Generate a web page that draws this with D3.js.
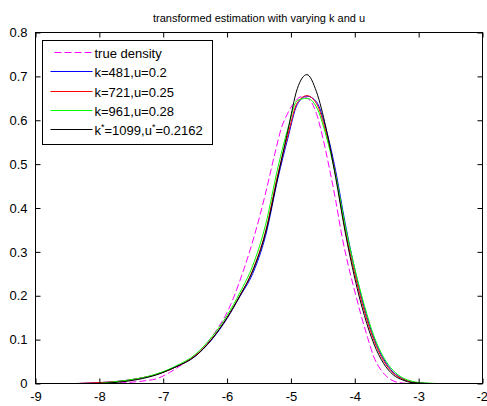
<!DOCTYPE html>
<html>
<head>
<meta charset="utf-8">
<script src="https://cdn.jsdelivr.net/npm/d3@7"></script>
<style>
  body { margin: 0; background: #fff; }
  svg text { font-family: "Liberation Sans", Arial, sans-serif; font-size: 13px; fill: #000; }
</style>
</head>
<body>
<div id="chart"></div>
<script>
// Density estimates

const xTicks = [-9, -8, -7, -6, -5, -4, -3, -2];
const yTicks = [0, 0.1, 0.2, 0.3, 0.4, 0.5, 0.6, 0.7, 0.8];

// true density (dashed magenta)
const xTrue = [-8.0, -7.6, -7.3, -7.1, -6.9, -6.7, -6.5, -6.3, -6.15, -6.0, -5.9, -5.75, -5.64, -5.5, -5.4, -5.25,
               -5.15, -5.05, -4.95, -4.83, -4.7, -4.6, -4.5, -4.4, -4.3, -4.2, -4.1, -4.0, -3.9, -3.8, -3.7, -3.6,
               -3.5, -3.4, -3.3, -3.15];
const yTrue = [0.0, 0.002, 0.006, 0.011, 0.025, 0.044, 0.065, 0.095, 0.125, 0.162, 0.195, 0.255, 0.304, 0.375, 0.432, 0.525,
               0.582, 0.616, 0.640, 0.654, 0.645, 0.615, 0.560, 0.492, 0.418, 0.335, 0.268, 0.210, 0.155, 0.105, 0.060, 0.033,
               0.016, 0.006, 0.002, 0.0];

// estimates share one x grid
const xEst = [-8.35, -8.0, -7.7, -7.4, -7.1, -6.8, -6.5, -6.25, -6.0, -5.8, -5.6, -5.4, -5.2, -5.05, -4.9, -4.75,
              -4.6, -4.45, -4.3, -4.15, -4.0, -3.85, -3.7, -3.55, -3.4, -3.25, -3.1, -2.9, -2.8, -2.7];
const yK481 = [0.0, 0.002, 0.005, 0.011, 0.021, 0.038, 0.062, 0.098, 0.148, 0.198, 0.250, 0.335, 0.470, 0.558, 0.636, 0.655,
               0.642, 0.580, 0.485, 0.365, 0.260, 0.172, 0.103, 0.056, 0.026, 0.011, 0.003, 0.0, null, null];
const yK721 = [0.0, 0.002, 0.005, 0.011, 0.021, 0.038, 0.063, 0.100, 0.150, 0.200, 0.258, 0.345, 0.480, 0.565, 0.640, 0.656,
               0.638, 0.572, 0.475, 0.350, 0.250, 0.165, 0.098, 0.052, 0.024, 0.010, 0.003, 0.0, null, null];
const yK961 = [null, 0.0, 0.005, 0.011, 0.022, 0.040, 0.066, 0.104, 0.155, 0.207, 0.268, 0.360, 0.495, 0.580, 0.645, 0.650,
               0.630, 0.565, 0.475, 0.360, 0.262, 0.178, 0.108, 0.060, 0.030, 0.013, 0.005, 0.001, 0.0005, 0.0];
const yK1099 = [null, 0.0, 0.003, 0.009, 0.020, 0.038, 0.062, 0.099, 0.150, 0.200, 0.256, 0.342, 0.475, 0.575, 0.672, 0.704,
                0.665, 0.582, 0.470, 0.345, 0.240, 0.155, 0.090, 0.046, 0.020, 0.008, 0.002, 0.0005, 0.0, null];

const legendLabels = ["true density", "k=481,u=0.2", "k=721,u=0.25", "k=961,u=0.28", null];

const width = 487, height = 406;
const svg = d3.select("#chart").append("svg")
    .attr("width", width)
    .attr("height", height);

const x = d3.scaleLinear().domain([-9, -2]).range([35.5, 482.5]);
const y = d3.scaleLinear().domain([0, 0.8]).range([383.5, 32.5]);

// title
svg.append("text")
    .attr("x", (x.range()[0] + x.range()[1]) / 2)
    .attr("y", 22)
    .attr("text-anchor", "middle")
    .style("font-size", "11px")
    .text("transformed estimation with varying k and u");

// curves
const series = [
    { xs: xTrue, ys: yTrue, color: "#ff00ff", dash: "7,3" },
    { xs: xEst, ys: yK481, color: "#0000ff" },
    { xs: xEst, ys: yK721, color: "#ff0000" },
    { xs: xEst, ys: yK961, color: "#00ff00" },
    { xs: xEst, ys: yK1099, color: "#000000" }
];

const line = d3.line()
    .defined(d => d[1] != null)
    .x(d => x(d[0]))
    .y(d => y(d[1]))
    .curve(d3.curveMonotoneX);

const plotG = svg.append("g");
series.forEach(s => {
    plotG.append("path")
        .datum(s.xs.map((v, i) => [v, s.ys[i]]))
        .attr("fill", "none")
        .attr("stroke", s.color)
        .attr("stroke-width", 1)
        .attr("stroke-dasharray", s.dash || null)
        .attr("d", line);
});

// axes with inward ticks on all four sides
const axG = svg.append("g");
const xAxisG = axG.append("g")
    .attr("transform", `translate(0,${y(0)})`)
    .call(d3.axisBottom(x).tickValues(xTicks).tickSize(-5).tickPadding(8).tickFormat(d => String(d)));
axG.append("g")
    .attr("transform", `translate(0,${y(0.8)})`)
    .call(d3.axisTop(x).tickValues(xTicks).tickSize(-5).tickFormat(""));
axG.append("g")
    .attr("transform", `translate(${x(-9)},0)`)
    .call(d3.axisLeft(y).tickValues(yTicks).tickSize(-5).tickPadding(8).tickFormat(d => String(d)));
axG.append("g")
    .attr("transform", `translate(${x(-2)},0)`)
    .call(d3.axisRight(y).tickValues(yTicks).tickSize(-5).tickFormat(""));

axG.selectAll(".domain").remove();
axG.selectAll(".tick line").attr("stroke", "#000");
axG.selectAll("text").attr("font-family", null).attr("font-size", null).style("font-size", "13px");
// keep the last x label inside the window
xAxisG.selectAll(".tick text").filter(d => d === -2).attr("text-anchor", "end").attr("dx", "5");

axG.append("rect")
    .attr("x", x(-9))
    .attr("y", y(0.8))
    .attr("width", x(-2) - x(-9))
    .attr("height", y(0) - y(0.8))
    .attr("fill", "none")
    .attr("stroke", "#000");

// legend
const lg = svg.append("g").attr("transform", "translate(42.5,40.5)");
lg.append("rect")
    .attr("width", 170)
    .attr("height", 104)
    .attr("fill", "#fff")
    .attr("stroke", "#000");

series.forEach((s, i) => {
    const cy = Math.round(12 + i * 19.3);
    lg.append("line")
        .attr("x1", s.dash ? 12 : 8).attr("x2", 50)
        .attr("y1", cy).attr("y2", cy)
        .attr("stroke", s.color)
        .attr("stroke-dasharray", s.dash || null);
    const t = lg.append("text")
        .attr("x", 52)
        .attr("y", cy + 5)
        .style("font-size", "13px");
    if (legendLabels[i] != null) {
        t.text(legendLabels[i]);
    } else {
        t.append("tspan").text("k");
        t.append("tspan").attr("dy", -5).style("font-size", "9px").text("*");
        t.append("tspan").attr("dy", 5).text("=1099,u");
        t.append("tspan").attr("dy", -5).style("font-size", "9px").text("*");
        t.append("tspan").attr("dy", 5).text("=0.2162");
    }
});
</script>
</body>
</html>
